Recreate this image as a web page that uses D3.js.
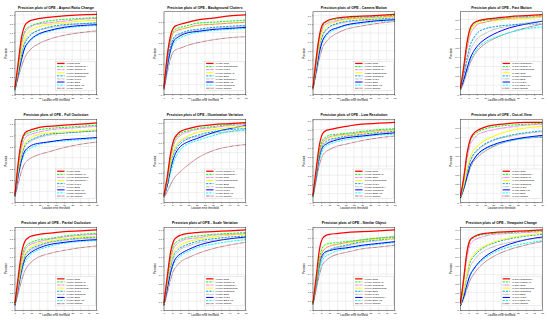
<!DOCTYPE html>
<html>
<head>
<meta charset="utf-8">
<script src="https://cdn.jsdelivr.net/npm/d3@7"></script>
<style>
  body { margin: 0; background: #fff; }
  svg { display: block; }
  text { font-family: "Liberation Sans", Arial, sans-serif; }
</style>
</head>
<body>
<svg id="chart" width="550" height="322"></svg>
<script>
const thresholds = [0, 2, 4, 6, 8, 10, 15, 20, 30, 40, 50];

const titles = ["Aspect Ratio Change", "Background Clutters", "Camera Motion", "Fast Motion",
  "Full Occlusion", "Illumination Variation", "Low Resolution", "Out-of-View",
  "Partial Occlusion", "Scale Variation", "Similar Object", "Viewpoint Change"];

// trackers per attribute, ranked as in each legend
const namesARC = ["Ours", "SiamRPN++", "SiamCAR", "DaSiamRPN", "SiamRPN", "TADT", "ECO", "ECO-HC", "STRCF"];
const namesBC  = ["Ours", "DaSiamRPN", "TADT", "SiamCAR", "ECO", "SiamRPN++", "ECO-HC", "SiamRPN", "STRCF"];
const namesCM  = ["Ours", "SiamRPN++", "SiamCAR", "DaSiamRPN", "SiamRPN", "TADT", "ECO", "ECO-HC", "STRCF"];
const namesFM  = ["SiamRPN++", "SiamCAR", "DaSiamRPN", "Ours", "SiamRPN", "ECO", "TADT", "ECO-HC", "STRCF"];
const namesFOC = ["Ours", "SiamCAR", "DaSiamRPN", "SiamRPN++", "TADT", "ECO", "ECO-HC", "SiamRPN", "STRCF"];
const namesIV  = ["SiamCAR", "SiamRPN++", "Ours", "DaSiamRPN", "ECO", "SiamRPN", "TADT", "ECO-HC", "STRCF"];
const namesLR  = ["Ours", "SiamCAR", "ECO", "DaSiamRPN", "TADT", "SiamRPN++", "SiamRPN", "ECO-HC", "STRCF"];
const namesOV  = ["Ours", "SiamRPN++", "SiamCAR", "DaSiamRPN", "SiamRPN", "TADT", "ECO-HC", "ECO", "STRCF"];
const namesPOC = ["Ours", "SiamCAR", "SiamRPN++", "DaSiamRPN", "TADT", "SiamRPN", "ECO", "ECO-HC", "STRCF"];
const namesSV  = ["Ours", "SiamCAR", "SiamRPN++", "DaSiamRPN", "SiamRPN", "ECO", "TADT", "ECO-HC", "STRCF"];
const namesSO  = ["Ours", "SiamCAR", "SiamRPN", "DaSiamRPN", "ECO", "TADT", "SiamRPN++", "ECO-HC", "STRCF"];
const namesVC  = ["SiamRPN++", "SiamCAR", "Ours", "DaSiamRPN", "SiamRPN", "ECO", "TADT", "ECO-HC", "STRCF"];

// precision values at each threshold, same order as the names
const precARC = [
  [0.08,0.37,0.65,0.78,0.82,0.84,0.86,0.872,0.89,0.90,0.905],
  [0.07,0.34,0.60,0.72,0.76,0.78,0.81,0.83,0.85,0.86,0.87],
  [0.07,0.32,0.57,0.70,0.74,0.77,0.80,0.81,0.83,0.85,0.86],
  [0.07,0.28,0.51,0.64,0.70,0.73,0.77,0.79,0.81,0.83,0.84],
  [0.06,0.25,0.45,0.58,0.64,0.68,0.73,0.76,0.79,0.80,0.81],
  [0.06,0.27,0.47,0.60,0.66,0.69,0.73,0.75,0.78,0.80,0.81],
  [0.06,0.23,0.40,0.53,0.59,0.63,0.69,0.72,0.76,0.78,0.79],
  [0.06,0.22,0.39,0.52,0.58,0.62,0.68,0.71,0.75,0.77,0.78],
  [0.05,0.19,0.32,0.42,0.48,0.52,0.58,0.62,0.67,0.70,0.72]];
const precBC = [
  [0.07,0.38,0.57,0.65,0.67,0.68,0.70,0.72,0.74,0.76,0.77],
  [0.07,0.36,0.54,0.62,0.64,0.65,0.67,0.69,0.70,0.71,0.72],
  [0.07,0.34,0.52,0.60,0.62,0.63,0.65,0.67,0.68,0.69,0.70],
  [0.07,0.37,0.53,0.60,0.62,0.63,0.65,0.665,0.68,0.69,0.70],
  [0.07,0.30,0.47,0.55,0.58,0.59,0.62,0.63,0.65,0.66,0.67],
  [0.06,0.29,0.45,0.54,0.57,0.58,0.61,0.62,0.64,0.65,0.66],
  [0.06,0.27,0.43,0.52,0.55,0.57,0.60,0.61,0.63,0.64,0.65],
  [0.06,0.25,0.41,0.50,0.53,0.55,0.58,0.60,0.62,0.63,0.64],
  [0.05,0.21,0.35,0.42,0.44,0.45,0.48,0.50,0.53,0.55,0.56]];
const precCM = [
  [0.08,0.42,0.68,0.80,0.83,0.85,0.87,0.88,0.89,0.90,0.91],
  [0.08,0.41,0.66,0.78,0.82,0.84,0.86,0.87,0.88,0.89,0.90],
  [0.08,0.38,0.63,0.76,0.80,0.82,0.84,0.86,0.87,0.88,0.89],
  [0.07,0.34,0.58,0.72,0.77,0.80,0.83,0.85,0.86,0.87,0.88],
  [0.07,0.32,0.55,0.68,0.74,0.77,0.81,0.83,0.85,0.86,0.87],
  [0.07,0.31,0.54,0.67,0.73,0.76,0.80,0.82,0.84,0.85,0.86],
  [0.07,0.28,0.49,0.62,0.68,0.72,0.76,0.79,0.82,0.84,0.85],
  [0.07,0.27,0.47,0.60,0.66,0.70,0.75,0.78,0.81,0.83,0.84],
  [0.06,0.24,0.42,0.54,0.60,0.64,0.70,0.74,0.78,0.81,0.83]];
const precFM = [
  [0.07,0.30,0.56,0.71,0.76,0.78,0.80,0.81,0.83,0.84,0.85],
  [0.07,0.29,0.54,0.69,0.74,0.77,0.79,0.80,0.82,0.83,0.84],
  [0.07,0.26,0.49,0.64,0.70,0.74,0.77,0.79,0.81,0.82,0.83],
  [0.07,0.28,0.52,0.67,0.72,0.75,0.77,0.785,0.80,0.81,0.82],
  [0.06,0.21,0.39,0.53,0.60,0.65,0.70,0.72,0.74,0.75,0.75],
  [0.06,0.19,0.35,0.47,0.54,0.59,0.65,0.69,0.73,0.76,0.78],
  [0.06,0.16,0.28,0.39,0.46,0.51,0.59,0.64,0.71,0.75,0.78],
  [0.06,0.16,0.27,0.37,0.43,0.48,0.56,0.60,0.66,0.70,0.72],
  [0.05,0.13,0.24,0.34,0.41,0.46,0.54,0.59,0.66,0.71,0.75]];
const precFOC = [
  [0.07,0.36,0.55,0.62,0.64,0.65,0.67,0.68,0.69,0.70,0.71],
  [0.07,0.34,0.52,0.60,0.62,0.63,0.65,0.66,0.67,0.68,0.69],
  [0.07,0.32,0.49,0.57,0.60,0.61,0.63,0.645,0.66,0.67,0.68],
  [0.07,0.29,0.44,0.53,0.56,0.58,0.61,0.62,0.63,0.64,0.65],
  [0.06,0.27,0.42,0.51,0.54,0.56,0.59,0.61,0.62,0.63,0.64],
  [0.06,0.26,0.41,0.50,0.53,0.55,0.58,0.60,0.62,0.63,0.64],
  [0.06,0.24,0.38,0.46,0.49,0.51,0.53,0.54,0.56,0.57,0.58],
  [0.06,0.23,0.36,0.44,0.47,0.49,0.52,0.535,0.55,0.56,0.57],
  [0.05,0.17,0.28,0.35,0.38,0.40,0.43,0.45,0.49,0.52,0.54]];
const precIV = [
  [0.07,0.26,0.49,0.63,0.68,0.71,0.74,0.76,0.78,0.79,0.80],
  [0.07,0.24,0.46,0.60,0.66,0.69,0.72,0.74,0.76,0.78,0.79],
  [0.07,0.23,0.44,0.58,0.64,0.67,0.71,0.73,0.75,0.77,0.78],
  [0.06,0.21,0.39,0.53,0.59,0.62,0.67,0.70,0.73,0.75,0.76],
  [0.06,0.19,0.36,0.49,0.55,0.59,0.64,0.67,0.71,0.73,0.74],
  [0.06,0.20,0.37,0.51,0.57,0.61,0.65,0.66,0.69,0.71,0.72],
  [0.06,0.17,0.33,0.45,0.52,0.56,0.61,0.64,0.70,0.74,0.77],
  [0.06,0.16,0.29,0.41,0.48,0.53,0.59,0.62,0.67,0.71,0.73],
  [0.05,0.11,0.18,0.24,0.28,0.31,0.38,0.44,0.52,0.56,0.58]];
const precLR = [
  [0.08,0.38,0.64,0.76,0.79,0.80,0.82,0.835,0.86,0.87,0.88],
  [0.07,0.34,0.58,0.69,0.72,0.74,0.75,0.76,0.78,0.80,0.81],
  [0.07,0.32,0.55,0.66,0.70,0.72,0.74,0.75,0.77,0.79,0.80],
  [0.07,0.34,0.56,0.66,0.69,0.71,0.73,0.74,0.76,0.78,0.79],
  [0.07,0.31,0.52,0.63,0.67,0.69,0.71,0.73,0.75,0.77,0.78],
  [0.07,0.29,0.50,0.61,0.65,0.67,0.70,0.72,0.74,0.76,0.77],
  [0.07,0.30,0.51,0.61,0.64,0.66,0.69,0.71,0.73,0.75,0.765],
  [0.06,0.27,0.47,0.58,0.62,0.64,0.67,0.69,0.72,0.74,0.75],
  [0.06,0.24,0.42,0.52,0.56,0.58,0.62,0.64,0.68,0.71,0.73]];
const precOV = [
  [0.07,0.27,0.53,0.68,0.74,0.77,0.81,0.83,0.85,0.86,0.86],
  [0.07,0.26,0.51,0.66,0.72,0.75,0.79,0.81,0.83,0.84,0.85],
  [0.07,0.24,0.47,0.62,0.68,0.72,0.76,0.78,0.81,0.83,0.84],
  [0.06,0.19,0.36,0.49,0.56,0.60,0.67,0.71,0.77,0.80,0.82],
  [0.06,0.17,0.33,0.45,0.52,0.56,0.63,0.67,0.72,0.75,0.77],
  [0.06,0.16,0.32,0.44,0.51,0.55,0.62,0.665,0.71,0.74,0.76],
  [0.05,0.15,0.28,0.40,0.46,0.51,0.58,0.62,0.67,0.70,0.72],
  [0.05,0.15,0.28,0.39,0.46,0.50,0.57,0.61,0.66,0.69,0.71],
  [0.05,0.14,0.26,0.37,0.44,0.48,0.55,0.60,0.66,0.69,0.70]];
const precPOC = [
  [0.08,0.38,0.64,0.77,0.81,0.83,0.85,0.86,0.88,0.89,0.90],
  [0.07,0.34,0.58,0.70,0.74,0.76,0.79,0.80,0.83,0.85,0.86],
  [0.07,0.32,0.55,0.67,0.72,0.74,0.77,0.79,0.82,0.84,0.85],
  [0.07,0.29,0.50,0.63,0.68,0.71,0.75,0.77,0.80,0.82,0.83],
  [0.07,0.28,0.48,0.61,0.66,0.69,0.73,0.76,0.79,0.81,0.82],
  [0.06,0.26,0.46,0.59,0.64,0.67,0.72,0.75,0.78,0.80,0.81],
  [0.06,0.25,0.44,0.57,0.62,0.65,0.70,0.73,0.76,0.78,0.79],
  [0.06,0.24,0.41,0.54,0.59,0.63,0.68,0.71,0.75,0.77,0.78],
  [0.05,0.19,0.33,0.44,0.50,0.54,0.60,0.63,0.67,0.70,0.72]];
const precSV = [
  [0.08,0.38,0.65,0.78,0.82,0.84,0.86,0.87,0.88,0.89,0.90],
  [0.07,0.36,0.60,0.73,0.77,0.79,0.82,0.83,0.85,0.86,0.87],
  [0.07,0.34,0.57,0.70,0.74,0.77,0.80,0.81,0.84,0.85,0.86],
  [0.07,0.31,0.53,0.65,0.70,0.73,0.77,0.79,0.82,0.84,0.85],
  [0.07,0.29,0.50,0.62,0.67,0.70,0.74,0.77,0.80,0.82,0.83],
  [0.06,0.27,0.47,0.59,0.64,0.68,0.72,0.75,0.78,0.80,0.81],
  [0.06,0.24,0.42,0.54,0.60,0.63,0.68,0.72,0.77,0.80,0.82],
  [0.06,0.23,0.40,0.52,0.57,0.61,0.66,0.70,0.74,0.77,0.79],
  [0.05,0.19,0.34,0.45,0.50,0.54,0.59,0.63,0.69,0.73,0.76]];
const precSO = [
  [0.08,0.38,0.68,0.80,0.83,0.84,0.85,0.86,0.87,0.88,0.89],
  [0.07,0.32,0.58,0.70,0.73,0.74,0.75,0.76,0.78,0.80,0.81],
  [0.07,0.30,0.54,0.65,0.69,0.71,0.73,0.75,0.78,0.80,0.82],
  [0.07,0.31,0.55,0.66,0.69,0.71,0.73,0.74,0.77,0.79,0.80],
  [0.07,0.28,0.50,0.61,0.65,0.67,0.70,0.72,0.76,0.78,0.80],
  [0.07,0.27,0.48,0.59,0.63,0.66,0.69,0.71,0.75,0.77,0.79],
  [0.07,0.29,0.52,0.62,0.65,0.66,0.68,0.69,0.72,0.74,0.76],
  [0.06,0.26,0.45,0.56,0.60,0.62,0.66,0.68,0.71,0.73,0.75],
  [0.06,0.23,0.40,0.51,0.55,0.58,0.62,0.64,0.68,0.70,0.72]];
const precVC = [
  [0.08,0.36,0.66,0.79,0.82,0.84,0.86,0.87,0.88,0.89,0.90],
  [0.08,0.36,0.65,0.78,0.81,0.83,0.85,0.86,0.87,0.88,0.89],
  [0.07,0.32,0.60,0.74,0.78,0.80,0.83,0.85,0.86,0.87,0.88],
  [0.06,0.22,0.42,0.56,0.62,0.66,0.72,0.76,0.81,0.84,0.86],
  [0.06,0.21,0.40,0.54,0.60,0.64,0.71,0.75,0.80,0.83,0.85],
  [0.06,0.19,0.36,0.49,0.55,0.60,0.67,0.71,0.76,0.79,0.81],
  [0.05,0.15,0.29,0.40,0.46,0.51,0.60,0.66,0.74,0.79,0.82],
  [0.05,0.15,0.28,0.39,0.45,0.50,0.58,0.64,0.71,0.75,0.78],
  [0.05,0.13,0.24,0.34,0.40,0.45,0.54,0.60,0.68,0.73,0.77]];

// line style per legend rank (toolkit order)
const rankColors = ["#ff0000", "#00ff00", "#ff00ff", "#ffff00", "#00a2e8", "#808080", "#0000ff", "#00ffff", "#880015"];
const rankDashes = [null, "2.2,1.1", "0.5,0.7", null, "2.2,1.1", "0.5,0.7", null, "2.2,1.1", "0.5,0.7"];

const names = [namesARC, namesBC, namesCM, namesFM, namesFOC, namesIV, namesLR, namesOV, namesPOC, namesSV, namesSO, namesVC];
const precs = [precARC, precBC, precCM, precFM, precFOC, precIV, precLR, precOV, precPOC, precSV, precSO, precVC];

const svg = d3.select("#chart");

// plot-area placement of the 4 x 3 grid
const colLeft = [15, 164, 313, 460.5];
const rowTop = [11.8, 119.6, 227.2];
const pw = 81.8, ph = 83;

const at20 = thresholds.indexOf(20);

titles.forEach((title, p) => {
  const g = svg.append("g")
    .attr("transform", `translate(${colLeft[p % 4]},${rowTop[Math.floor(p / 4)]})`);

  const series = precs[p];
  const ymax = d3.max(series, s => s[s.length - 1]) + 0.03;

  const x = d3.scaleLinear().domain([0, 50]).range([0, pw]);
  const y = d3.scaleLinear().domain([0, ymax]).range([ph, 0]);
  const yTicks = d3.range(0, ymax, 0.1);

  // grid
  g.append("g").selectAll("line.v")
    .data(d3.range(0, 51, 5))
    .enter().append("line")
      .attr("x1", d => x(d)).attr("x2", d => x(d))
      .attr("y1", 0).attr("y2", ph)
      .style("stroke", "#d4d4d4").style("stroke-width", 0.35);
  g.append("g").selectAll("line.h")
    .data(yTicks)
    .enter().append("line")
      .attr("x1", 0).attr("x2", pw)
      .attr("y1", d => y(d)).attr("y2", d => y(d))
      .style("stroke", "#d4d4d4").style("stroke-width", 0.35);

  // axes
  const xAxis = g.append("g").attr("transform", `translate(0,${ph})`)
    .call(d3.axisBottom(x).tickValues(d3.range(0, 51, 5)).tickSize(1).tickPadding(1).tickFormat(d3.format("d")));
  const yAxis = g.append("g")
    .call(d3.axisLeft(y).tickValues(yTicks).tickSize(1).tickPadding(1).tickFormat(d => d === 0 ? "0" : d3.format(".1f")(d)));
  [xAxis, yAxis].forEach(a => {
    a.select(".domain").remove();
    a.selectAll("line").style("stroke", "#000").style("stroke-width", 0.3);
    a.selectAll("text").style("font-size", "2.4px").style("fill", "#000")
      .style("font-family", "'Liberation Sans', Arial, sans-serif");
  });

  // curves
  const line = d3.line()
    .x((d, i) => x(thresholds[i]))
    .y(d => y(d))
    .curve(d3.curveMonotoneX);

  // draw worst first so the leader sits on top
  series.map((s, i) => ({ s, i })).reverse().forEach(({ s, i }) => {
    g.append("path")
      .datum(s)
      .attr("d", line)
      .style("fill", "none")
      .style("stroke", rankColors[i])
      .style("stroke-width", i === 0 ? 1.25 : 1.0)
      .style("stroke-dasharray", rankDashes[i]);
  });

  // frame
  g.append("rect").attr("width", pw).attr("height", ph)
    .style("fill", "none").style("stroke", "#000").style("stroke-width", 0.4);

  // legend, lower right
  const rowH = 3.1, lw = 40, lh = rowH * series.length + 1.4;
  const lg = g.append("g").attr("transform", `translate(${pw - lw - 1.2},${ph - lh - 4.3})`);
  lg.append("rect").attr("width", lw).attr("height", lh)
    .style("fill", "#fff").style("stroke", "#bbb").style("stroke-width", 0.3);
  series.forEach((s, i) => {
    const cy = 0.7 + rowH * i + rowH / 2;
    lg.append("line")
      .attr("x1", 1.5).attr("x2", 9).attr("y1", cy).attr("y2", cy)
      .style("stroke", rankColors[i])
      .style("stroke-width", i === 0 ? 1.25 : 1.0)
      .style("stroke-dasharray", rankDashes[i]);
    lg.append("text")
      .attr("x", 11).attr("y", cy + 0.85)
      .style("font-size", "2.45px").style("fill", "#000")
      .text(`[${d3.format(".3f")(s[at20])}] ${names[p][i]}`);
  });

  // titles and axis labels
  g.append("text")
    .attr("x", pw / 2).attr("y", -3.2)
    .attr("text-anchor", "middle")
    .style("font-size", "3.5px").style("font-weight", "bold")
    .text(`Precision plots of OPE - ${title}`);
  g.append("text")
    .attr("x", pw / 2).attr("y", ph + 6.3)
    .attr("text-anchor", "middle")
    .style("font-size", "2.6px").style("fill", "#000")
    .text("Location error threshold");
  g.append("text")
    .attr("transform", `translate(-8.2,${ph / 2}) rotate(-90)`)
    .attr("text-anchor", "middle")
    .style("font-size", "2.6px").style("fill", "#000")
    .text("Precision");
});
</script>
</body>
</html>
